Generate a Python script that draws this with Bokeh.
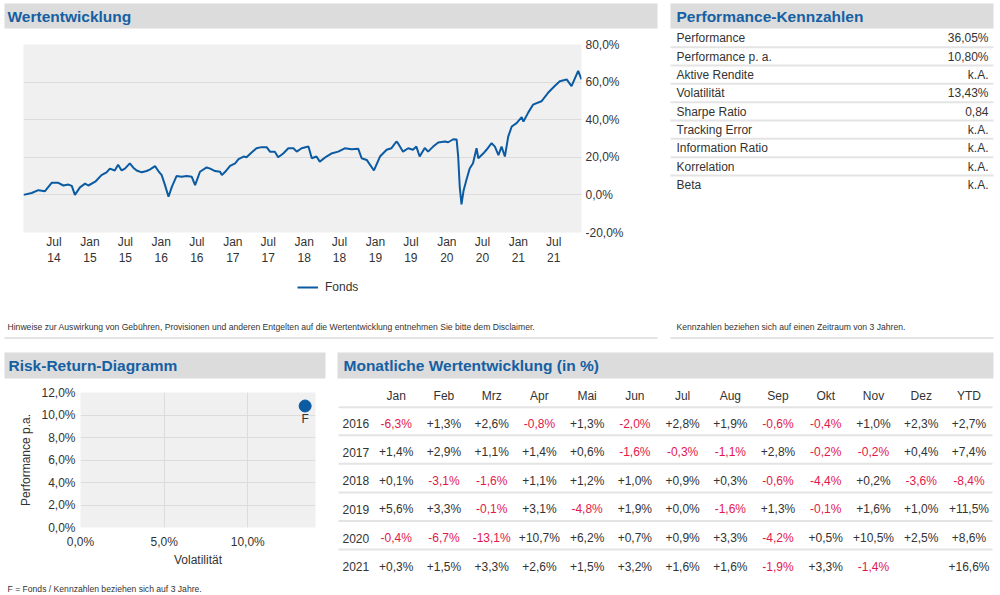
import pandas as pd
from bokeh.plotting import figure
from bokeh.models import Range1d, FixedTicker, ColumnDataSource, Legend, LegendItem
from bokeh.layouts import row, column
from bokeh.core.properties import value
from bokeh.embed import file_html
from bokeh.resources import INLINE

# ---------------- data ----------------
LINE_DATES = [
    "2014-01-26", "2014-03-09", "2014-04-12", "2014-05-16", "2014-06-19", "2014-07-23",
    "2014-08-18", "2014-09-13", "2014-09-30", "2014-10-16", "2014-11-11", "2014-12-07",
    "2014-12-24", "2015-01-28", "2015-03-01", "2015-03-27", "2015-04-13", "2015-05-08",
    "2015-05-25", "2015-06-12", "2015-06-29", "2015-07-24", "2015-08-11", "2015-08-28",
    "2015-09-23", "2015-10-18", "2015-11-05", "2015-11-30", "2015-12-17", "2016-01-03",
    "2016-01-20", "2016-02-07", "2016-02-24", "2016-03-19", "2016-04-14", "2016-05-10",
    "2016-06-05", "2016-06-22", "2016-07-17", "2016-08-20", "2016-09-07", "2016-10-02",
    "2016-10-28", "2016-11-06", "2016-11-23", "2016-12-18", "2017-01-13", "2017-01-30",
    "2017-02-25", "2017-03-12", "2017-04-07", "2017-05-02", "2017-05-28", "2017-06-23",
    "2017-07-10", "2017-08-04", "2017-08-21", "2017-09-16", "2017-10-12", "2017-11-07",
    "2017-11-24", "2017-12-19", "2018-01-23", "2018-02-09", "2018-03-05", "2018-03-22",
    "2018-04-25", "2018-05-20", "2018-06-24", "2018-07-28", "2018-09-01", "2018-10-05",
    "2018-10-22", "2018-11-17", "2018-12-24", "2019-01-24", "2019-02-27", "2019-03-23",
    "2019-04-18", "2019-04-26", "2019-05-22", "2019-06-17", "2019-07-12", "2019-07-29",
    "2019-08-15", "2019-09-10", "2019-09-27", "2019-10-23", "2019-11-18", "2019-12-22",
    "2020-01-08", "2020-02-03", "2020-02-20", "2020-02-28", "2020-03-07", "2020-03-16",
    "2020-03-27", "2020-04-10", "2020-04-27", "2020-05-14", "2020-06-01", "2020-06-10",
    "2020-07-05", "2020-07-22", "2020-08-17", "2020-09-03", "2020-09-21", "2020-10-07",
    "2020-10-24", "2020-11-10", "2020-11-28", "2020-12-23", "2021-01-18", "2021-01-27",
    "2021-02-21", "2021-03-17", "2021-04-29", "2021-06-02", "2021-07-06", "2021-08-01",
    "2021-09-05", "2021-09-30", "2021-11-03", "2021-11-20",
]
LINE_VALUES = [
    0.0, 1.0, 2.5, 2.0, 6.4, 6.4,
    5.0, 5.5, 4.8, 0.0, 4.0, 6.0,
    5.0, 7.0, 10.5, 12.0, 14.0, 13.0,
    16.0, 13.0, 14.0, 16.8, 14.5, 13.0,
    12.0, 12.7, 13.6, 15.3, 12.7, 10.5,
    5.2, -1.0, 4.3, 10.0, 9.6, 10.0,
    9.6, 5.2, 12.3, 14.6, 14.0, 12.7,
    12.3, 10.5, 12.3, 15.4, 16.8, 19.0,
    20.4, 20.0, 22.5, 24.8, 25.4, 25.4,
    23.0, 23.0, 20.0, 22.0, 24.8, 24.8,
    23.0, 24.8, 25.7, 19.5, 20.4, 17.7,
    20.4, 22.0, 23.0, 24.8, 24.3, 24.5,
    19.5, 18.6, 13.0, 20.4, 24.0, 24.8,
    28.4, 27.5, 23.0, 24.8, 24.0, 25.7,
    20.4, 25.0, 23.0, 25.7, 27.9, 28.4,
    28.0, 29.6, 29.5, 20.4, 4.3, -5.0,
    2.5, 7.9, 14.0, 16.8, 24.8, 19.5,
    22.0, 24.0, 27.5, 25.7, 21.2, 25.7,
    20.4, 31.0, 36.4, 38.2, 41.4, 39.0,
    43.9, 48.0, 49.8, 54.3, 57.9, 60.5,
    61.4, 57.9, 66.0, 61.4,
]
SERIES_NAME = "Fonds"
X_TICK_DATES = ["2014-07-01", "2015-01-01", "2015-07-01", "2016-01-01", "2016-07-01",
                "2017-01-01", "2017-07-01", "2018-01-01", "2018-07-01", "2019-01-01",
                "2019-07-01", "2020-01-01", "2020-07-01", "2021-01-01", "2021-07-01"]
X_TICK_LABELS = ["Jul\n14", "Jan\n15", "Jul\n15", "Jan\n16", "Jul\n16", "Jan\n17", "Jul\n17",
                 "Jan\n18", "Jul\n18", "Jan\n19", "Jul\n19", "Jan\n20", "Jul\n20", "Jan\n21",
                 "Jul\n21"]
Y_TICKS = [-20, 0, 20, 40, 60, 80]
Y_TICK_LABELS = ["-20,0%", "0,0%", "20,0%", "40,0%", "60,0%", "80,0%"]

PERF_NAMES = ["Performance", "Performance p. a.", "Aktive Rendite", "Volatilität",
              "Sharpe Ratio", "Tracking Error", "Information Ratio", "Korrelation", "Beta"]
PERF_VALUES = ["36,05%", "10,80%", "k.A.", "13,43%", "0,84", "k.A.", "k.A.", "k.A.", "k.A."]

RR_VOL = [13.43]
RR_PERF = [10.80]
RR_LABEL = ["F"]
RR_X_TICKS = [0, 5, 10]
RR_X_LABELS = ["0,0%", "5,0%", "10,0%"]
RR_Y_TICKS = [0, 2, 4, 6, 8, 10, 12]
RR_Y_LABELS = ["0,0%", "2,0%", "4,0%", "6,0%", "8,0%", "10,0%", "12,0%"]

MONTHS = ["Jan", "Feb", "Mrz", "Apr", "Mai", "Jun", "Jul", "Aug", "Sep", "Okt", "Nov", "Dez", "YTD"]
YEARS = ["2016", "2017", "2018", "2019", "2020", "2021"]
R2016 = [-6.3, 1.3, 2.6, -0.8, 1.3, -2.0, 2.8, 1.9, -0.6, -0.4, 1.0, 2.3]
R2017 = [1.4, 2.9, 1.1, 1.4, 0.6, -1.6, -0.3, -1.1, 2.8, -0.2, -0.2, 0.4]
R2018 = [0.1, -3.1, -1.6, 1.1, 1.2, 1.0, 0.9, 0.3, -0.6, -4.4, 0.2, -3.6]
R2019 = [5.6, 3.3, -0.1, 3.1, -4.8, 1.9, 0.0, -1.6, 1.3, -0.1, 1.6, 1.0]
R2020 = [-0.4, -6.7, -13.1, 10.7, 6.2, 0.7, 0.9, 3.3, -4.2, 0.5, 10.5, 2.5]
R2021 = [0.3, 1.5, 3.3, 2.6, 1.5, 3.2, 1.6, 1.6, -1.9, 3.3, -1.4, None]
YTD = [2.7, 7.4, -8.4, 11.5, 8.6, 16.6]

TXT_WERT = "Wertentwicklung"
TXT_PERF = "Performance-Kennzahlen"
TXT_RR = "Risk-Return-Diagramm"
TXT_MON = "Monatliche Wertentwicklung (in %)"
NOTE_WERT = ("Hinweise zur Auswirkung von Gebühren, Provisionen und anderen Entgelten auf die "
             "Wertentwicklung entnehmen Sie bitte dem Disclaimer.")
NOTE_PERF = "Kennzahlen beziehen sich auf einen Zeitraum von 3 Jahren."
NOTE_RR = "F = Fonds / Kennzahlen beziehen sich auf 3 Jahre."

# ---------------- styles ----------------
FONT = "Liberation Sans"
HEAD_BG = "#dcdcdc"
HEAD_FG = "#1560a3"
TXT = "#333333"
RED = "#e2184c"
BLUE = "#0b5ba3"
PLOT_BG = "#f0f0f0"
GRID = "#dcdcdc"
SEP = "#e4e4e4"


def canvas(w, h):
    f = figure(width=w, height=h, x_range=Range1d(0, w), y_range=Range1d(h, 0),
               x_axis_location=None, y_axis_location=None, output_backend="svg",
               toolbar_location=None, min_border=0)
    f.grid.visible = False
    f.outline_line_color = None
    f.background_fill_color = "white"
    f.border_fill_color = "white"
    return f


def header(f, x0, x1, y0, y1, title, tx):
    f.quad(left=[x0], right=[x1], top=[y0], bottom=[y1], fill_color=HEAD_BG, line_color=None)
    f.text(x=[tx], y=[(y0 + y1) / 2], text=[title], text_font=value(FONT),
           text_font_style="bold", text_font_size="15.5px", text_color=HEAD_FG,
           text_baseline="middle", text_align="left")


def note(f, x, y, t, size="8.6px"):
    f.text(x=[x], y=[y], text=[t], text_font=value(FONT), text_font_size=size,
           text_color=TXT, text_baseline="middle", text_align="left")


def style_axis(ax):
    ax.axis_line_color = None
    ax.major_tick_line_color = None
    ax.minor_tick_line_color = None
    ax.major_tick_out = 0
    ax.major_tick_in = 0
    ax.minor_tick_out = 0
    ax.minor_tick_in = 0
    ax.major_label_text_font = FONT
    ax.major_label_text_font_size = "12px"
    ax.major_label_text_color = TXT
    ax.axis_label_text_font = FONT
    ax.axis_label_text_font_size = "12px"
    ax.axis_label_text_font_style = "normal"
    ax.axis_label_text_color = TXT


def solo(f):
    # wrap a figure on its own so that its frame is not aligned with its neighbours
    return row(f)


# ---------------- Wertentwicklung ----------------
a1 = canvas(666, 30)
header(a1, 4, 657, 3, 28, TXT_WERT, 7)

dates = pd.to_datetime(LINE_DATES)
src = ColumnDataSource(dict(date=dates, val=LINE_VALUES))
a2 = figure(width=666, height=242, x_axis_type="datetime", y_axis_location="right",
            x_range=Range1d(dates[0], dates[-1]), y_range=Range1d(-20, 80),
            output_backend="svg", toolbar_location=None,
            min_border_left=23, min_border_right=85, min_border_top=14, min_border_bottom=40)
a2.background_fill_color = PLOT_BG
a2.border_fill_color = "white"
a2.outline_line_color = None
a2.line(x="date", y="val", source=src, line_color=BLUE, line_width=2)

xt = [float(pd.Timestamp(dd).value // 10**6) for dd in X_TICK_DATES]
a2.xaxis.ticker = FixedTicker(ticks=xt)
a2.xaxis.major_label_overrides = {t: l for t, l in zip(xt, X_TICK_LABELS)}
a2.yaxis.ticker = FixedTicker(ticks=Y_TICKS)
a2.yaxis.major_label_overrides = {t: l for t, l in zip(Y_TICKS, Y_TICK_LABELS)}
style_axis(a2.xaxis[0])
style_axis(a2.yaxis[0])
a2.xaxis.major_label_standoff = 2
a2.yaxis.major_label_standoff = 4
a2.xgrid.visible = False
a2.ygrid.ticker = FixedTicker(ticks=Y_TICKS)
a2.ygrid.grid_line_color = GRID

# legend + footnote strip below the chart; the key uses the same series source,
# which lies far outside this strip's view so only the legend entry shows
a3 = canvas(666, 67)
key = a3.line(x="date", y="val", source=src, line_color=BLUE, line_width=2)
lg = Legend(items=[LegendItem(label=SERIES_NAME, renderers=[key])], location=(297, 45),
            orientation="horizontal", border_line_color=None, background_fill_alpha=0,
            padding=0, margin=0, glyph_width=21, glyph_height=12, label_height=12,
            label_standoff=7, label_text_font=FONT, label_text_font_size="12px",
            label_text_color=TXT)
a3.add_layout(lg)
note(a3, 7, 54, NOTE_WERT)
a3.segment(x0=[4], x1=[657], y0=[65.5], y1=[65.5], line_color=SEP, line_width=2)

# ---------------- Performance-Kennzahlen ----------------
b = canvas(331, 339)
header(b, 4, 327, 3, 28, TXT_PERF, 10)
row_y = [37.7 + i * 18.33 for i in range(len(PERF_NAMES))]
b.text(x=[10] * len(PERF_NAMES), y=row_y, text=PERF_NAMES, text_font=value(FONT),
       text_font_size="12px", text_color=TXT, text_baseline="middle", text_align="left")
b.text(x=[322] * len(PERF_VALUES), y=row_y, text=PERF_VALUES, text_font=value(FONT),
       text_font_size="12px", text_color=TXT, text_baseline="middle", text_align="right")
sep_y = [y + 9 for y in row_y[:-1]]
b.segment(x0=[4] * len(sep_y), x1=[327] * len(sep_y), y0=sep_y, y1=sep_y,
          line_color=SEP, line_width=2)
note(b, 10, 326, NOTE_PERF)
b.segment(x0=[4], x1=[327], y0=[337.5], y1=[337.5], line_color=SEP, line_width=2)

# ---------------- Risk-Return ----------------
c1 = canvas(333, 40)
header(c1, 4, 325, 13, 39, TXT_RR, 8)

c2 = figure(width=333, height=196, x_range=Range1d(0, 14.05), y_range=Range1d(0, 12),
            output_backend="svg", toolbar_location=None,
            min_border_left=80, min_border_right=18, min_border_top=13, min_border_bottom=48)
c2.background_fill_color = PLOT_BG
c2.border_fill_color = "white"
c2.outline_line_color = None
c2.xaxis.ticker = FixedTicker(ticks=RR_X_TICKS)
c2.xaxis.major_label_overrides = {t: l for t, l in zip(RR_X_TICKS, RR_X_LABELS)}
c2.yaxis.ticker = FixedTicker(ticks=RR_Y_TICKS)
c2.yaxis.major_label_overrides = {t: l for t, l in zip(RR_Y_TICKS, RR_Y_LABELS)}
c2.xaxis.axis_label = "Volatilität"
c2.yaxis.axis_label = "Performance p.a."
style_axis(c2.xaxis[0])
style_axis(c2.yaxis[0])
c2.xaxis.major_label_standoff = 7
c2.xaxis.axis_label_standoff = 1
c2.yaxis.major_label_standoff = 5
c2.yaxis.axis_label_standoff = 5
c2.xgrid.ticker = FixedTicker(ticks=RR_X_TICKS)
c2.ygrid.ticker = FixedTicker(ticks=RR_Y_TICKS)
c2.grid.grid_line_color = GRID
c2.scatter(x=RR_VOL, y=RR_PERF, size=12, fill_color=BLUE, line_color=BLUE)
c2.text(x=RR_VOL, y=RR_PERF, text=RR_LABEL, y_offset=13, text_font=value(FONT),
        text_font_size="12px", text_color=TXT, text_baseline="middle", text_align="center")

c3 = canvas(333, 19)
note(c3, 7, 13, NOTE_RR)

# ---------------- Monatliche Wertentwicklung ----------------
d = canvas(664, 255)
header(d, 4, 660, 13, 39, TXT_MON, 10)
col_x = [62.7 + j * 47.73 for j in range(len(MONTHS))]
d.text(x=col_x, y=[56] * len(MONTHS), text=MONTHS, text_font=value(FONT),
       text_font_size="12px", text_color=TXT, text_baseline="middle", text_align="center")
rows = [R2016, R2017, R2018, R2019, R2020, R2021]
yr_y = [84.3 + i * 28.55 for i in range(len(YEARS))]
d.text(x=[9] * len(YEARS), y=yr_y, text=YEARS, text_font=value(FONT),
       text_font_size="12px", text_color=TXT, text_baseline="middle", text_align="left")
cx, cy, ct, cc = [], [], [], []
for i, vals in enumerate(rows):
    for j, v in enumerate(vals + [YTD[i]]):
        if v is None:
            continue
        cx.append(col_x[j])
        cy.append(yr_y[i])
        ct.append(f"{v:+.1f}".replace(".", ",") + "%")
        cc.append(RED if v < 0 else TXT)
d.text(x=cx, y=cy, text=ct, text_color=cc, text_font=value(FONT), text_font_size="12px",
       text_baseline="middle", text_align="center")
lines_y = [67.7] + [y + 11.5 for y in yr_y[:-1]]
d.segment(x0=[5] * len(lines_y), x1=[659] * len(lines_y), y0=lines_y, y1=lines_y,
          line_color=SEP, line_width=2)

layout = column(
    row(column(solo(a1), solo(a2), solo(a3)), solo(b)),
    row(column(solo(c1), solo(c2), solo(c3)), solo(d)),
)

open("out.html", "w").write(file_html(layout, INLINE))
